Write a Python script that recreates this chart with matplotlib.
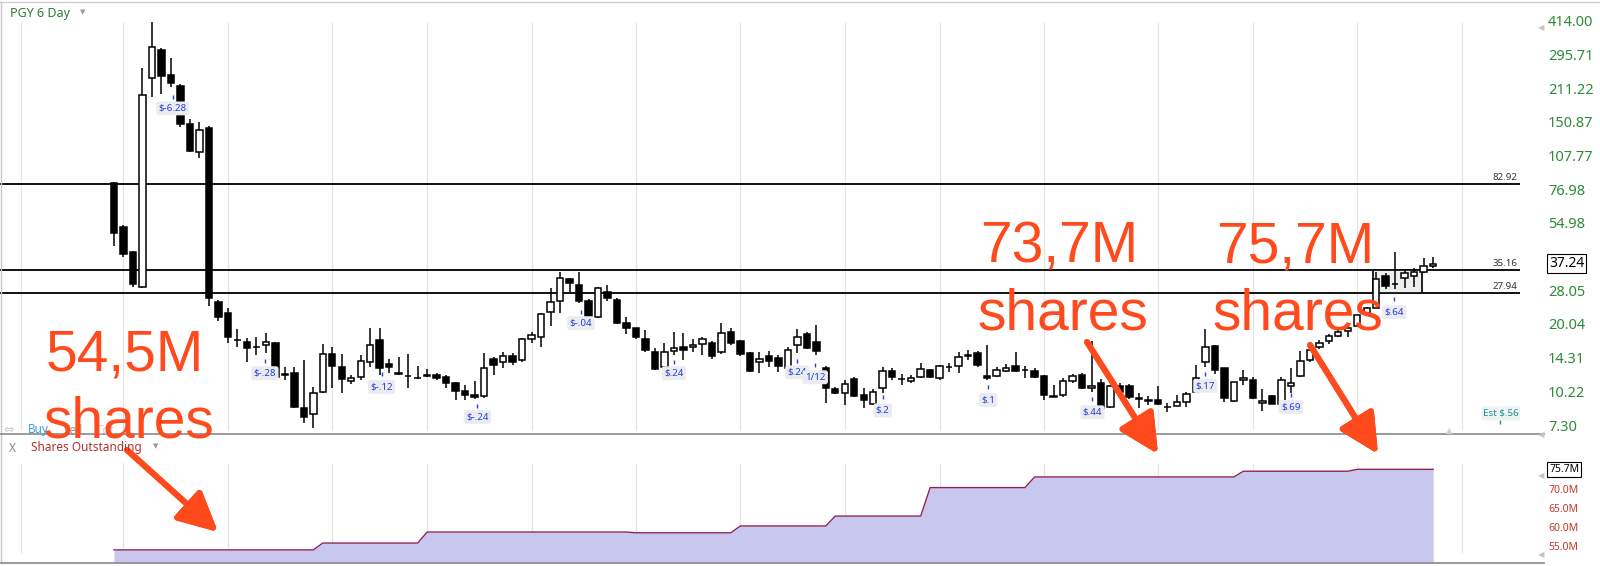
import numpy as np
import matplotlib.pyplot as plt
from matplotlib.patches import Rectangle
from matplotlib.lines import Line2D

# 6-day candles, PGY
opens = [83.5, 53.9, 42.0, 29.6, 239, 317, 246, 221, 151, 114, 145, 25.5, 22.8, 17.5, 17.1, 16.2, 16.6,
         16.9, 12.3, 12.5, 8.83, 8.31, 10.35, 15.1, 13.3, 11.6, 12.0, 14.0, 17.4, 13.7, 12.5, 12.2, 11.95,
         12.2, 12.3, 12.0, 11.3, 10.45, 10.05, 9.95, 14.4, 14.0, 14.9, 14.3, 17.6, 17.96, 23.0, 25.7, 32.1,
         30.2, 25.7, 21.9, 28.2, 26.0, 20.6, 19.6, 17.6, 15.45, 13.3, 15.6, 16.25, 16.25, 16.75, 16.9, 15.45,
         18.9, 17.25, 15.3, 14.0, 14.9, 14.55, 13.2, 16.6, 18.5, 17.1, 13.2, 10.7, 10.25, 11.8, 10.05, 9.19,
         10.8, 12.8, 11.85, 11.6, 12.0, 12.9, 11.9, 13.3, 13.4, 14.9, 15.3, 12.2, 12.2, 12.8, 13.4, 12.9,
         12.8, 12.2, 9.95, 10.05, 11.6, 12.3, 10.8, 11.3, 8.92, 11.0, 11.0, 9.75, 9.5, 9.57, 8.9, 9.0, 9.37,
         10.35, 14.0, 16.4, 13.2, 9.47, 11.7, 11.7, 9.28, 9.95, 9.19, 11.0, 12.2, 14.3, 16.25, 17.25, 18.1,
         19.1, 20.0, 22.8, 24.0, 33.1, 30.5, 32.4, 33.1, 34.4, 36.6]
highs = [84, 55, 42.5, 264, 419, 323, 292, 225, 158, 154, 148, 26.0, 24.0, 19.4, 17.8, 17.9, 18.7,
         17.0, 13.3, 13.3, 14.3, 10.9, 16.7, 16.25, 15.1, 12.3, 15.0, 19.6, 19.6, 14.4, 14.7, 15.1, 13.4,
         13.0, 12.5, 12.3, 11.4, 11.1, 11.6, 15.3, 14.7, 15.45, 15.3, 17.8, 18.9, 22.8, 29.3, 34.4, 32.4,
         34.4, 26.3, 29.6, 30.2, 26.5, 21.9, 19.7, 19.2, 16.1, 16.9, 18.9, 18.7, 17.6, 17.96, 17.25, 20.6,
         19.6, 17.4, 15.45, 15.45, 15.6, 15.0, 16.25, 19.4, 18.9, 20.2, 13.4, 10.9, 11.7, 12.0, 10.8, 10.7,
         13.3, 13.2, 12.4, 12.3, 13.8, 13.0, 13.6, 13.8, 15.45, 15.8, 15.6, 16.6, 13.3, 13.7, 15.45, 13.4,
         13.2, 12.3, 11.1, 11.9, 12.4, 12.5, 17.25, 11.8, 11.1, 11.35, 11.2, 10.25, 9.95, 11.0, 9.28, 10.05,
         10.35, 13.6, 19.4, 16.5, 13.2, 11.45, 12.9, 12.0, 10.7, 10.05, 12.0, 13.2, 15.6, 16.25, 17.4, 18.5,
         19.4, 20.0, 22.4, 24.2, 34.4, 34.0, 42.0, 35.4, 35.75, 39.5, 39.9]
lows = [44.6, 40, 29.6, 29.3, 198, 204, 217, 146, 114, 107, 24.5, 21.1, 16.9, 16.2, 14.0, 15.0, 15.3,
        11.7, 11.7, 8.8, 7.6, 7.2, 10.3, 10.8, 10.25, 11.2, 11.7, 13.3, 12.3, 12.5, 12.3, 10.8, 11.8,
        12.0, 11.7, 10.8, 9.57, 9.6, 9.7, 9.8, 12.3, 13.2, 13.6, 14.0, 16.9, 16.25, 20.0, 22.8, 28.2,
        25.2, 22.0, 21.8, 25.7, 20.4, 18.5, 17.6, 15.45, 12.9, 13.2, 15.0, 14.3, 15.45, 15.0, 14.4, 15.1,
        16.6, 14.9, 12.6, 12.5, 13.3, 12.6, 12.9, 15.3, 15.9, 15.0, 9.28, 10.15, 9.1, 9.85, 8.83, 9.1,
        10.25, 11.7, 11.1, 11.35, 11.9, 11.9, 11.7, 12.6, 12.5, 14.3, 13.3, 11.7, 12.0, 12.6, 12.6, 11.9,
        11.9, 9.57, 9.85, 9.85, 11.35, 10.7, 10.35, 8.8, 8.83, 9.85, 9.66, 8.83, 9.1, 9.1, 8.48, 9.0, 8.92,
        10.35, 13.3, 12.4, 9.37, 9.4, 11.1, 9.7, 8.6, 9.15, 9.1, 10.25, 12.0, 14.0, 15.9, 16.75, 17.96,
        17.96, 20.0, 22.4, 24.0, 28.9, 28.9, 29.3, 29.6, 34.0, 35.75]
closes = [50.8, 41.2, 30.5, 201, 326, 244, 228, 151, 115, 142, 26.5, 21.9, 18.0, 17.4, 16.1, 16.3, 17.1,
          12.0, 12.4, 8.92, 8.07, 10.25, 15.1, 13.4, 11.8, 11.9, 14.1, 16.6, 13.2, 13.3, 12.4, 12.1, 11.9,
          12.25, 11.9, 11.3, 10.5, 10.05, 9.85, 13.2, 13.6, 14.9, 14.0, 17.6, 18.3, 22.6, 25.5, 32.4, 30.8,
          25.7, 22.2, 29.3, 26.5, 20.6, 19.6, 17.96, 15.8, 13.0, 15.45, 16.1, 15.8, 16.6, 17.6, 14.9, 18.7,
          16.9, 15.1, 12.8, 14.4, 14.1, 13.4, 15.8, 17.96, 16.1, 15.6, 10.8, 10.25, 11.2, 9.95, 9.57, 10.35,
          12.8, 12.0, 11.8, 11.9, 13.0, 12.0, 13.4, 13.25, 14.7, 14.95, 13.6, 11.9, 12.9, 13.2, 12.8, 12.95,
          12.0, 10.05, 9.9, 11.6, 12.2, 10.8, 11.0, 8.83, 11.0, 10.35, 9.85, 9.7, 9.52, 9.19, 8.88, 9.37,
          10.15, 11.9, 16.25, 12.9, 9.75, 11.45, 11.9, 9.75, 9.47, 9.19, 11.7, 11.35, 14.1, 15.8, 16.9, 18.1,
          18.9, 19.6, 22.4, 24.0, 32.1, 29.9, 30.4, 34.0, 34.4, 36.5, 37.24]

# shares outstanding (millions): level and number of bars it holds
shares_levels = [54.5, 56.3, 59.2, 59.0, 60.8, 63.4, 70.9, 73.7, 75.2, 75.7]
shares_bars = [22, 11, 22, 11, 10, 10, 11, 22, 12, 9]

price_ticks = [7.30, 10.22, 14.31, 20.04, 28.05, 54.98, 76.98, 107.77, 150.87, 211.22, 295.71, 414.00]
last_price = 37.24
level_lines = [82.92, 35.16, 27.94]
share_ticks = [55.0, 60.0, 65.0, 70.0]
last_shares = 75.7

# earnings marks: bar position, label, text price, tick price
earn_x = [6.2, 15.9, 28.2, 38.3, 49.2, 59.0, 72.0, 73.9, 81.0, 92.1, 103.1, 115.0, 124.0, 134.9]
earn_txt = ['$-6.28', '$-.28', '$-.12', '$-.24', '$-.04', '$.24', '$.24', '1/12', '$.2', '$.1',
            '$.44', '$.17', '$.69', '$.64']
earn_y = [176, 12.5, 10.9, 8.07, 20.6, 12.5, 12.6, 12.0, 8.63, 9.56, 8.46, 11.0, 8.93, 23.0]
earn_tick = [197, 14.1, 12.3, 8.94, 23.0, 13.9, 14.1, 13.5, 9.77, 10.83, 9.66, 12.3, 10.0, 26.0]

grid_x = [-9.8, 1, 12, 23, 33, 44, 55, 66, 77, 87, 98, 110, 120, 131, 142]

ui_font = ['Noto Sans', 'DejaVu Sans']
red = '#fe4a1c'
green = '#2f8a3a'

W, H = 1600, 566
fig = plt.figure(figsize=(16, 5.66), dpi=100)
fig.patch.set_facecolor('white')


def fx(x):
    return x / W


def fy(y):
    return 1 - y / H


ax = fig.add_axes([0, fy(434), fx(1520), (434 - 2) / H])
ax2 = fig.add_axes([0, fy(563), fx(1520), (563 - 434) / H])
for a in (ax, ax2):
    a.set_xlim(-12.01, 148.15)
    a.set_xticks([])
    a.set_yticks([])
    for s in a.spines.values():
        s.set_visible(False)
    a.patch.set_alpha(0)

ax.set_yscale('log')
ax.set_ylim(6.81, 509.5)
ax.minorticks_off()
ax.set_yticks([])
ax2.set_ylim(51.05, 85.0)

# grid
ax.vlines(grid_x, 7.08, 416, color='#e4e4e4', lw=0.9, zorder=0)
ax2.vlines(grid_x, 53.7, 77.4, color='#e4e4e4', lw=0.9, zorder=0)

# level lines
for lv in level_lines:
    ax.axhline(lv, color='#111111', lw=1.4, zorder=1)
    ax.text(147.9, lv * 1.02, f'{lv:.2f}', ha='right', va='bottom', fontsize=7,
            color='#333333', family=ui_font)

# consolidation box
ax.add_patch(Rectangle((132.7, 27.94), 5.1, 35.16 - 27.94, fc='#eeeeee', ec='#111111',
                       lw=1.3, zorder=1.5))

# candles
n = len(opens)
xs = np.arange(n)
bw = 0.68
for i in range(n):
    o, h, l, c = opens[i], highs[i], lows[i], closes[i]
    ax.vlines(xs[i], l, h, color='black', lw=1.1, zorder=2)
    up = c >= o
    lo, hi = min(o, c), max(o, c)
    ax.add_patch(Rectangle((xs[i] - bw / 2, lo), bw, hi - lo,
                           fc='white' if up else 'black', ec='black', lw=1.1, zorder=3))

# earnings marks
for x, t, y, tk in zip(earn_x, earn_txt, earn_y, earn_tick):
    ax.vlines(x, tk * 0.985, tk * 1.025, color='#2244dd', lw=1, zorder=4)
    ax.text(x, y, t, ha='center', va='center', fontsize=7, fontweight='bold', color='#1f3fe0',
            family=ui_font, zorder=4,
            bbox=dict(boxstyle='round,pad=0.25', fc='#ececf0', ec='none'))
ax.vlines(146.0, 7.55, 7.8, color='#1f8f8f', lw=1)
ax.text(144.3, 8.37, 'Est $.56', ha='left', va='center', fontsize=7, fontweight='bold',
        color='#1f8f8f', family=ui_font, clip_on=True,
        bbox=dict(boxstyle='round,pad=0.25', fc='#eef3f3', ec='none'))

# price axis labels
for p in price_ticks:
    ax.text(1548 / 1520, p, f'{p:.2f}', transform=ax.get_yaxis_transform(), ha='left', va='center',
            fontsize=10.5, color=green, family=ui_font, clip_on=False)
ax.text(1549 / 1520, last_price, f'{last_price:.2f}', transform=ax.get_yaxis_transform(), ha='left',
        va='center', fontsize=10, color='black', family=ui_font, clip_on=False,
        bbox=dict(boxstyle='square,pad=0.15', fc='white', ec='black', lw=0.8))

# shares outstanding panel
shares = np.repeat(shares_levels, shares_bars)
ax2.fill_between(xs, shares, 51.05, color='#c8c8ee', lw=0, zorder=1)
ax2.plot(xs, shares, color='#8e2456', lw=1.0, zorder=2)
for v in share_ticks:
    ax2.text(1548 / 1520, v, f'{v:.1f}M', transform=ax2.get_yaxis_transform(), ha='left', va='center',
             fontsize=7.5, color='#c0392b', family=ui_font, clip_on=False)
ax2.text(1549 / 1520, last_shares, f'{last_shares:.1f}M', transform=ax2.get_yaxis_transform(),
         ha='left', va='center', fontsize=7.5, color='black', family=ui_font, clip_on=False,
         bbox=dict(boxstyle='square,pad=0.2', fc='white', ec='black', lw=0.8))

# frame lines
fig.add_artist(Line2D([0, 1], [fy(2), fy(2)], color='#d0d0d0', lw=1))
fig.add_artist(Line2D([fx(0.5), fx(0.5)], [fy(2), fy(563)], color='#c8c8c8', lw=1))
fig.add_artist(Line2D([0, fx(1544)], [fy(434), fy(434)], color='#8a8a8a', lw=1.2))
fig.add_artist(Line2D([0, fx(1544)], [fy(563), fy(563)], color='#8a8a8a', lw=1.2))
for ty in (28, 435, 476, 555):
    fig.text(fx(1541), fy(ty), '◀', fontsize=6, color='#c4c4c4', ha='center', va='center',
             family=ui_font)
fig.text(fx(1449), fy(431), '▲', fontsize=6, color='#d0d0d0', ha='center', va='center',
         family=ui_font)

# panel titles
fig.text(fx(10), fy(14), 'PGY 6 Day', fontsize=9, color='#2e7d32', va='center', family=ui_font)
fig.text(fx(80), fy(13), '▼', fontsize=5, color='#999999', va='center', family=ui_font)
fig.text(fx(9), fy(448), 'X', fontsize=8.5, color='#888888', va='center', family=ui_font)
fig.text(fx(31), fy(448), 'Shares Outstanding', fontsize=8.5, color='#b03030', va='center',
         family=ui_font)
fig.text(fx(153), fy(447), '▼', fontsize=5, color='#999999', va='center', family=ui_font)
fig.text(fx(3), fy(430), '⇔', fontsize=9, color='#cccccc', va='center', family=ui_font)
fig.text(fx(28), fy(430), 'Buy', fontsize=8.5, color='#3ba0e0', va='center', family=ui_font)
fig.text(fx(63), fy(430), 'Sell', fontsize=8.5, color='#999999', va='center', family=ui_font)
fig.text(fx(95), fy(430), 'Cot', fontsize=8.5, color='#cccccc', va='center', family=ui_font)

# big red notes
big = dict(fontsize=41, color=red, family=['Liberation Sans', 'DejaVu Sans'], va='baseline',
           ha='left', zorder=10)
fig.text(fx(46), fy(370), '54,5M', **big)
fig.text(fx(43), fy(438), 'shares', **big)
fig.text(fx(980), fy(262), '73,7M', **big)
fig.text(fx(977), fy(330), 'shares', **big)
fig.text(fx(1216), fy(262), '75,7M', **big)
fig.text(fx(1212), fy(330), 'shares', **big)

arrows = [((127, 450), (218, 532)), ((1087, 342), (1158, 454)), ((1310, 345), (1378, 454))]
for (x0, y0), (x1, y1) in arrows:
    fig.add_artist(plt.annotate('', xy=(x1, H - y1), xytext=(x0, H - y0), xycoords='figure pixels',
                                textcoords='figure pixels',
                                arrowprops=dict(arrowstyle='-|>,head_length=1.2,head_width=0.6',
                                                mutation_scale=20, lw=4.3, color=red,
                                                shrinkA=0, shrinkB=0)))

fig.savefig('out.png', dpi=100)
